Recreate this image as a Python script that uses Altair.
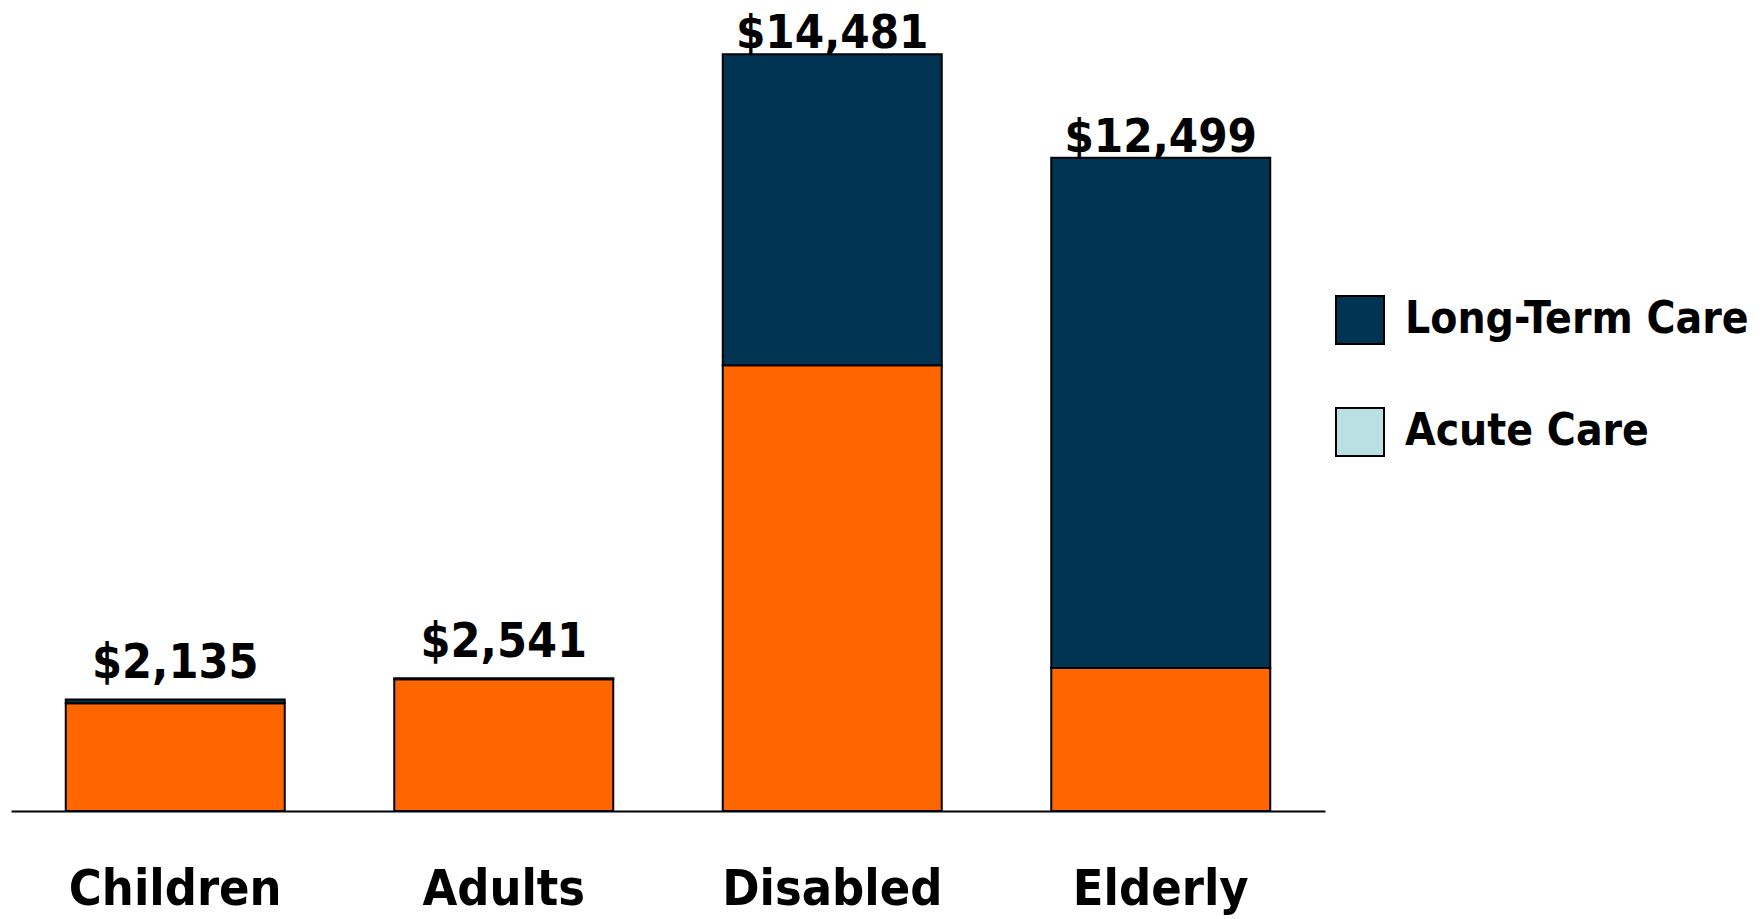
import altair as alt
import pandas as pd

categories = ["Children", "Adults", "Disabled", "Elderly"]
acute_care = [2060, 2520, 8530, 2735]
long_term_care = [75, 21, 5951, 9764]
totals = [2135, 2541, 14481, 12499]
total_labels = ["$2,135", "$2,541", "$14,481", "$12,499"]
series_names = ["Long-Term Care", "Acute Care"]

FONT = "DejaVu Sans Condensed, DejaVu Sans"

rows = []
for c, a, l in zip(categories, acute_care, long_term_care):
    rows.append({"category": c, "series": "Acute Care", "value": a, "ord": 0})
    rows.append({"category": c, "series": "Long-Term Care", "value": l, "ord": 1})
long_df = pd.DataFrame(rows)
tot_df = pd.DataFrame({"category": categories, "total": totals, "label": total_labels})
leg_df = pd.DataFrame({"series": series_names})

x_enc = alt.X(
    "category:N",
    sort=categories,
    scale=alt.Scale(paddingInner=1 / 3, paddingOuter=1 / 6),
    axis=alt.Axis(
        title=None,
        ticks=False,
        domainColor="black",
        domainWidth=2,
        labelFont=FONT,
        labelFontSize=50,
        labelFontWeight="bold",
        labelColor="black",
        labelPadding=53,
        labelAngle=0,
        labelLimit=1000,
    ),
)
y_scale = alt.Scale(domain=[0, 15000], nice=False, zero=True)

bars = alt.Chart(long_df).mark_bar(stroke="black", strokeWidth=2).encode(
    x=x_enc,
    y=alt.Y("value:Q", stack="zero", scale=y_scale, axis=None),
    color=alt.Color(
        "series:N",
        scale=alt.Scale(domain=series_names, range=["#003452", "#FF6600"]),
        legend=None,
    ),
    order=alt.Order("ord:Q", sort="ascending"),
)

label_base = alt.Chart(tot_df).encode(
    x=alt.X("category:N", sort=categories),
    y=alt.Y("total:Q", scale=y_scale, axis=None),
    text="label:N",
)
labels_tall = label_base.transform_filter("datum.total >= 5000").mark_text(
    font=FONT, fontSize=47, fontWeight="bold", color="black",
    baseline="alphabetic", dy=-6,
)
labels_short = label_base.transform_filter("datum.total < 5000").mark_text(
    font=FONT, fontSize=48, fontWeight="bold", color="black",
    baseline="alphabetic", dy=-21,
)

legend_layer = alt.Chart(leg_df).mark_square(opacity=0, size=10).encode(
    color=alt.Color(
        "series:N",
        scale=alt.Scale(domain=series_names, range=["#003452", "#BBE0E3"]),
        legend=alt.Legend(
            title=None,
            orient="none",
            legendX=1324,
            legendY=268,
            symbolType="square",
            symbolSize=2304,
            symbolOpacity=1,
            symbolStrokeColor="black",
            symbolStrokeWidth=2,
            labelFont=FONT,
            labelFontSize=44,
            labelFontWeight="bold",
            labelColor="black",
            labelOffset=20,
            labelLimit=1000,
            rowPadding=56,
            padding=0,
        ),
    ),
)

chart = alt.layer(bars, labels_tall, labels_short, legend_layer).resolve_scale(
    color="independent"
).properties(
    width=1314,
    height=784,
    autosize=alt.AutoSizeParams(type="none"),
    padding={"left": 3, "top": 19, "right": 431, "bottom": 108},
).configure_view(stroke=None)

chart.save("out.html", embed_options={"renderer": "svg", "actions": False})
